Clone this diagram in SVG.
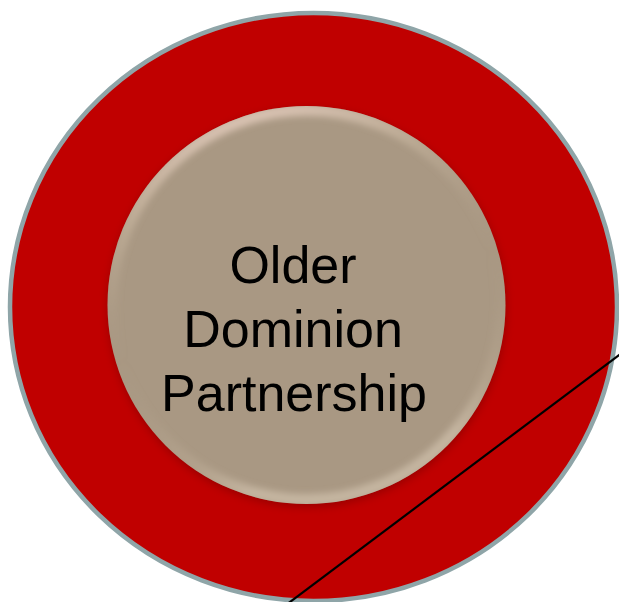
<svg xmlns="http://www.w3.org/2000/svg" width="619" height="602" viewBox="0 0 619 602">
  <style>
    .lbl { font-family: "Liberation Sans", Arial, sans-serif; font-size: 52px; fill: #000000; text-anchor: middle; }
    .conn { stroke: #000000; stroke-width: 2.2; fill: none; }
  </style>
  <defs>
    <linearGradient id="bevel" x1="0" y1="0" x2="0.3" y2="1">
      <stop offset="0" stop-color="#F4D8D0" stop-opacity="0.95"/>
      <stop offset="0.3" stop-color="#D8C6AE" stop-opacity="0.35"/>
      <stop offset="0.6" stop-color="#A99883" stop-opacity="0"/>
      <stop offset="0.9" stop-color="#C9B9A2" stop-opacity="0.3"/>
      <stop offset="1" stop-color="#E0D2BE" stop-opacity="0.5"/>
    </linearGradient>
    <filter id="blur3" x="-10%" y="-10%" width="120%" height="120%">
      <feGaussianBlur stdDeviation="3"/>
    </filter>
    <filter id="shadow" x="-10%" y="-10%" width="120%" height="120%">
      <feGaussianBlur stdDeviation="4"/>
    </filter>
    <clipPath id="innerClip">
      <circle cx="306.5" cy="305" r="199"/>
    </clipPath>
  </defs>

  <g id="outer-ring">
    <ellipse cx="313.5" cy="307" rx="303.5" ry="294" fill="#C00000" stroke="#8FA5A8" stroke-width="4.5"/>
  </g>

  <g id="center-node">
    <circle cx="307" cy="308" r="199" fill="#6A0000" opacity="0.45" filter="url(#shadow)"/>
    <circle cx="306.5" cy="305" r="199" fill="#A99883"/>
    <g clip-path="url(#innerClip)">
      <circle cx="306.5" cy="305" r="195" fill="none" stroke="url(#bevel)" stroke-width="12" filter="url(#blur3)"/>
    </g>
    <text class="lbl" x="293" y="283">Older</text>
    <text class="lbl" x="293" y="347">Dominion</text>
    <text class="lbl" x="294" y="411">Partnership</text>
  </g>

  <g id="connectors">
    <line class="conn" x1="288" y1="603.5" x2="621" y2="353.5"/>
  </g>
</svg>
